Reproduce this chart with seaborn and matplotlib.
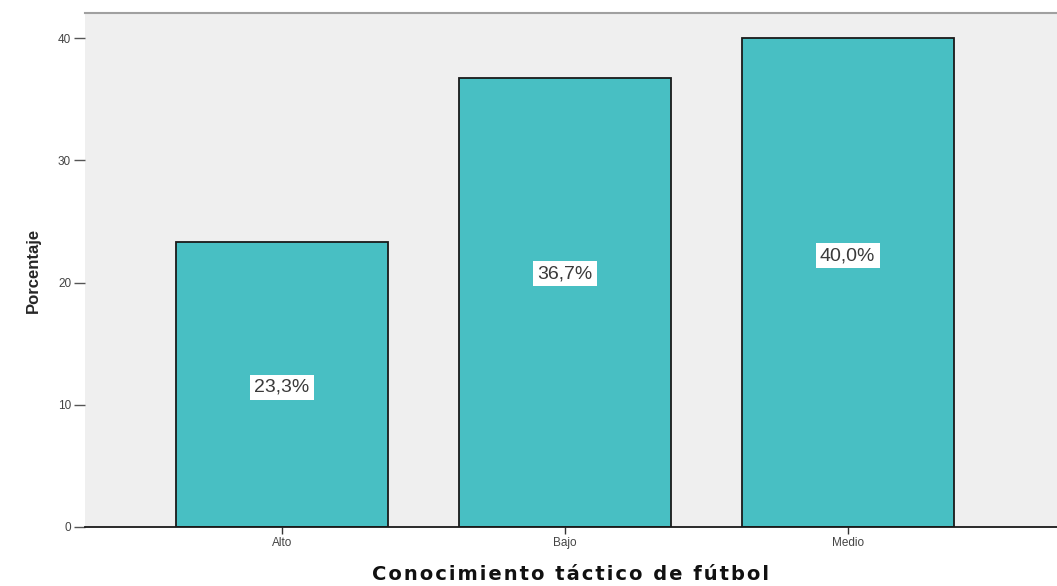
import numpy as np
import seaborn as sns
import matplotlib.pyplot as plt
import pandas as pd

categories = ["Alto", "Bajo", "Medio"]
porcentajes = [23.3, 36.7, 40.0]
etiquetas = ["23,3%", "36,7%", "40,0%"]
yticks = [0, 10, 20, 30, 40]

df = pd.DataFrame({"nivel": categories, "pct": porcentajes})

sns.set_style("white")
plt.rcParams["font.family"] = ["Liberation Sans", "DejaVu Sans"]

fig = plt.figure(figsize=(10.57, 5.86), dpi=100)
ax = fig.add_axes([0.0804, 0.1007, 0.9196, 0.8771])
ax.set_facecolor("#efefef")

sns.barplot(data=df, x="nivel", y="pct", color="#48bfc3", saturation=1,
            edgecolor="#1a1a1a", linewidth=1.3, width=0.75, ax=ax)

ax.set_xlim(-0.696, 2.74)
ax.set_ylim(0, 42.05)
ax.set_yticks(yticks)
ax.set_yticklabels([str(t) for t in yticks], fontsize=8.5, color="#444444")
ax.set_xticks(range(len(categories)))
ax.set_xticklabels(categories, fontsize=8.5, color="#444444")
ax.tick_params(axis="y", length=8, width=1, color="#555555", pad=2, left=True)
ax.tick_params(axis="x", length=5, width=1, color="#333333", pad=2, bottom=True)

for s in ["left", "right"]:
    ax.spines[s].set_visible(False)
ax.spines["top"].set_color("#a0a0a0")
ax.spines["top"].set_linewidth(1.5)
ax.spines["bottom"].set_color("#1a1a1a")
ax.spines["bottom"].set_linewidth(1.3)

# label heights as they sit in the reference (not exactly mid-bar)
label_frac = [0.49, 0.565, 0.555]
for i, (v, lab) in enumerate(zip(porcentajes, etiquetas)):
    ax.text(i, v * label_frac[i], lab, ha="center", va="center", fontsize=14,
            color="#3a3a3a",
            bbox=dict(boxstyle="square,pad=0.22", facecolor="white", edgecolor="none"))

ax.set_ylabel("Porcentaje", fontsize=12, fontweight="bold", labelpad=12,
              family=["Liberation Sans Narrow", "Liberation Sans", "DejaVu Sans"])

xlab = "Conocimiento táctico de fútbol"
spaced = "\u200a".join(xlab)
ax.set_xlabel(spaced, fontsize=14, fontweight="bold", labelpad=12,
              family=["DejaVu Sans"], color="#111111")

fig.savefig("out.png", dpi=100, facecolor="white")
